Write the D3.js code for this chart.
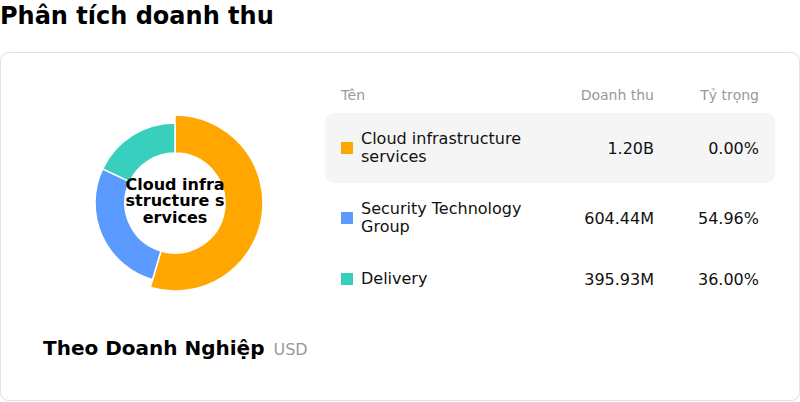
<!DOCTYPE html>
<html>
<head>
<meta charset="utf-8">
<script src="https://cdn.jsdelivr.net/npm/d3@7"></script>
<style>
  body { margin: 0; background: #fff; font-family: "DejaVu Sans", sans-serif; }
  svg { display: block; }
</style>
</head>
<body>
<div id="chart"></div>
<script>
const w = 800, h = 402;

// data
const names = ["Cloud infrastructure services", "Security Technology Group", "Delivery"];
const revenue = [1200, 604.44, 395.93]; // millions USD
const revenueLabels = ["1.20B", "604.44M", "395.93M"];
const shareLabels = ["0.00%", "54.96%", "36.00%"];
const colors = ["#ffa600", "#5b9bff", "#39cfbf"];
const headers = ["Tên", "Doanh thu", "Tỷ trọng"];
const selected = 0;

const svg = d3.select("#chart").append("svg")
  .attr("width", w).attr("height", h)
  .attr("viewBox", "0 0 " + w + " " + h)
  .style("font-family", "'DejaVu Sans', sans-serif");

svg.append("text").attr("x", 0).attr("y", 24)
  .style("font-size", "24px").style("font-weight", "bold").attr("fill", "#000")
  .text("Phân tích doanh thu");

svg.append("rect").attr("x", 0.5).attr("y", 52.5).attr("width", w - 1).attr("height", 348)
  .attr("rx", 8).attr("fill", "#fff").attr("stroke", "#e0e0ea");

// donut
const cx = 175, cy = 203, rIn = 50, rOut = 80, rSel = 88;
const pie = d3.pie().sort(null).value(d => d)(revenue);
const arc = d3.arc().innerRadius(rIn);

const g = svg.append("g").attr("transform", "translate(" + cx + "," + cy + ")");
g.selectAll("path").data(pie).enter().append("path")
  .attr("d", (d, i) => arc.outerRadius(i === selected ? rSel : rOut)(d))
  .attr("fill", (d, i) => colors[i])
  .attr("stroke", "#fff").attr("stroke-width", 1.5);

// center label, broken by characters to fit the hole
const centerText = g.append("text").attr("text-anchor", "middle")
  .style("font-size", "16px").style("font-weight", "bold").attr("fill", "#000");
const probe = centerText.append("tspan");
const chars = names[selected].split("");
const lines = [];
let cur = "";
chars.forEach(c => {
  probe.text(cur + c);
  if (probe.node().getComputedTextLength() > rIn * 2 && cur.length) { lines.push(cur); cur = c; }
  else cur += c;
});
if (cur) lines.push(cur);
probe.remove();
lines.forEach((l, i) => {
  centerText.append("tspan").attr("x", 0)
    .attr("y", 3 + (i - (lines.length - 1) / 2) * 16.5)
    .text(l.trim());
});

// table
const xName = 341, xRev = 654, xShare = 759;
const head = svg.append("g").style("font-size", "14px").attr("fill", "#999");
head.append("text").attr("x", xName).attr("y", 100).text(headers[0]);
head.append("text").attr("x", xRev).attr("y", 100).attr("text-anchor", "end").text(headers[1]);
head.append("text").attr("x", xShare).attr("y", 100).attr("text-anchor", "end").text(headers[2]);

function wrapWords(text, maxW) {
  const t = svg.append("text").style("font-size", "16px");
  const words = text.split(" ");
  const out = [];
  let line = "";
  words.forEach(wd => {
    const test = line ? line + " " + wd : wd;
    t.text(test);
    if (t.node().getComputedTextLength() > maxW && line) { out.push(line); line = wd; }
    else line = test;
  });
  if (line) out.push(line);
  t.remove();
  return out;
}

const lineH = 18, pad = 17;
let y0 = 113;
names.forEach((name, i) => {
  const nameLines = wrapWords(name, 180);
  const rowH = pad * 2 + nameLines.length * lineH;
  const mid = y0 + rowH / 2;
  const row = svg.append("g");
  if (i === selected) {
    row.append("rect").attr("x", 325).attr("y", y0).attr("width", 450).attr("height", rowH)
      .attr("rx", 9).attr("fill", "#f5f5f5");
  }
  row.append("rect").attr("x", xName).attr("y", mid - 6).attr("width", 12).attr("height", 12)
    .attr("fill", colors[i]);
  const t = row.append("text").style("font-size", "16px").attr("fill", "#111");
  nameLines.forEach((l, k) => {
    t.append("tspan").attr("x", 361)
      .attr("y", mid + 5 + (k - (nameLines.length - 1) / 2) * lineH).text(l);
  });
  row.append("text").attr("x", xRev).attr("y", mid + 5.5).attr("text-anchor", "end")
    .style("font-size", "16px").attr("fill", "#111").text(revenueLabels[i]);
  row.append("text").attr("x", xShare).attr("y", mid + 5.5).attr("text-anchor", "end")
    .style("font-size", "16px").attr("fill", "#111").text(shareLabels[i]);
  y0 += rowH;
});

// footer caption
const cap = svg.append("text").attr("x", 43).attr("y", 355);
cap.append("tspan").style("font-size", "20px").style("font-weight", "bold").attr("fill", "#000")
  .text("Theo Doanh Nghiệp");
cap.append("tspan").attr("dx", 9).style("font-size", "16px").attr("fill", "#999").text("USD");
</script>
</body>
</html>
